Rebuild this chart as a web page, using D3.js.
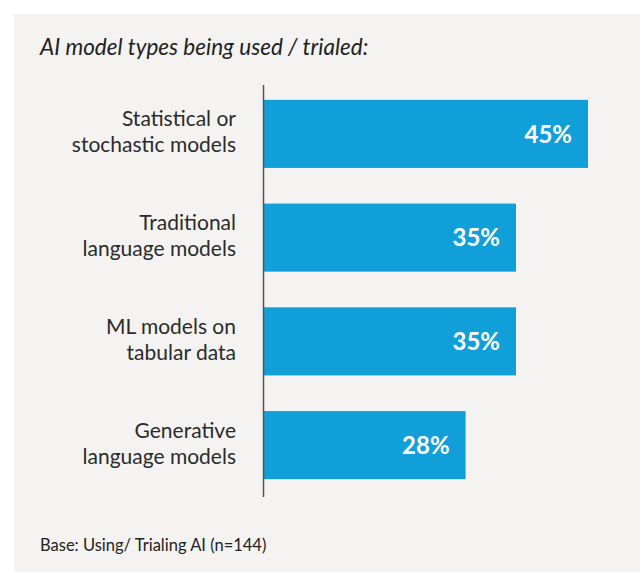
<!DOCTYPE html>
<html>
<head>
<meta charset="utf-8">
<script src="https://cdn.jsdelivr.net/npm/d3@7"></script>
<style>
  html, body { margin: 0; padding: 0; background: #ffffff; }
  svg { display: block; }
</style>
</head>
<body>
<svg id="chart" width="640" height="572"></svg>
<script>
const categories = [
  ["Statistical or", "stochastic models"],
  ["Traditional", "language models"],
  ["ML models on", "tabular data"],
  ["Generative", "language models"]
];
const values = [45, 35, 35, 28];
const valueLabels = ["45%", "35%", "35%", "28%"];
const title = "AI model types being used / trialed:";
const footer = "Base: Using/ Trialing AI (n=144)";

const W = 640, H = 572;
const svg = d3.select("#chart");
const font = "Lato, 'Open Sans', sans-serif";

svg.append("rect").attr("x", 14).attr("y", 14).attr("width", W - 14).attr("height", H - 14)
  .attr("fill", "#f4f3f1");

svg.append("text").attr("x", 40).attr("y", 55)
  .attr("font-family", font).attr("font-style", "italic").attr("font-size", 22.5)
  .attr("fill", "#222").text(title);

const ids = categories.map((d, i) => i);
const y = d3.scaleBand().domain(ids).range([82, 497]).paddingInner(0.344).paddingOuter(0.172);
const x = d3.scaleLinear().domain([0, 45]).range([264, 588]);

svg.selectAll("rect.bar").data(values).join("rect").attr("class", "bar")
  .attr("x", x(0)).attr("y", (d, i) => y(i))
  .attr("width", d => x(d) - x(0)).attr("height", y.bandwidth())
  .attr("fill", "#119fd9");

svg.selectAll("text.val").data(values).join("text").attr("class", "val")
  .attr("x", d => x(d) - 16).attr("y", (d, i) => y(i) + y.bandwidth() / 2)
  .attr("dy", "0.36em").attr("text-anchor", "end")
  .attr("font-family", font).attr("font-weight", 700).attr("font-size", 24)
  .attr("fill", "#ffffff").text((d, i) => valueLabels[i]);

const labelG = svg.selectAll("g.cat").data(categories).join("g").attr("class", "cat")
  .attr("transform", (d, i) => `translate(236, ${y(i) + y.bandwidth() / 2})`);
labelG.selectAll("text").data(d => d).join("text")
  .attr("x", 0).attr("y", (d, j) => j === 0 ? -7.5 : 18.5)
  .attr("text-anchor", "end")
  .attr("font-family", font).attr("font-size", 21).attr("fill", "#2b2b2b")
  .text(d => d);

svg.append("line").attr("x1", 263.5).attr("x2", 263.5).attr("y1", 85).attr("y2", 497)
  .attr("stroke", "#555").attr("stroke-width", 1.5);

svg.append("text").attr("x", 40).attr("y", 551)
  .attr("font-family", font).attr("font-size", 16.5).attr("fill", "#222").text(footer);
</script>
</body>
</html>
